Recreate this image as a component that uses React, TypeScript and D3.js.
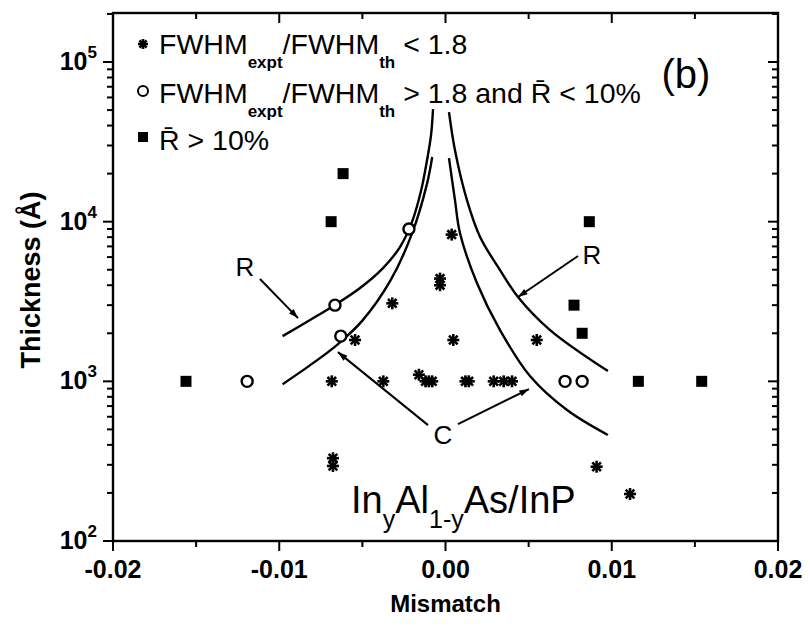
import React from "react";
import * as d3 from "d3";

// ---------- data ----------
const starsX = [0.00037, -0.00033, -0.00033, -0.0032, -0.00544, 0.00047, 0.00549, -0.00684, -0.00374, -0.0016, -0.0012, -0.001, -0.0008, 0.0012, 0.0014, 0.0029, 0.0035, 0.004, -0.00677, -0.00677, 0.00909, 0.0111];
const starsY = [8300, 4400, 4000, 3080, 1815, 1815, 1815, 1000, 1000, 1100, 1000, 1000, 1000, 1000, 1000, 1000, 1000, 1000, 330, 295, 292, 197];

const circlesX = [-0.0022, -0.00665, -0.0063, -0.01193, 0.00719, 0.00822];
const circlesY = [9000, 3000, 1920, 1000, 1000, 1000];

const squaresX = [-0.00616, -0.00688, -0.01561, 0.00865, 0.00773, 0.00822, 0.0116, 0.01541];
const squaresY = [20000, 10000, 1000, 10000, 3000, 2000, 1000, 1000];

// theory curves
const rLeftX = [-0.0098, -0.00815, -0.00665, -0.00514, -0.00376, -0.00274, -0.00202, -0.00146, -0.00111, -0.00087, -0.00075];
const rLeftY = [1920, 2420, 3008, 3840, 5120, 6930, 9930, 15780, 24320, 34860, 50700];
const cLeftX = [-0.0098, -0.0082, -0.0065, -0.005, -0.0033, -0.002, -0.0011, -0.0008];
const cLeftY = [960, 1250, 1700, 2400, 4300, 8500, 17500, 25400];
const rRightX = [0.00021, 0.00057, 0.00129, 0.00208, 0.00328, 0.00436, 0.00629, 0.00977];
const rRightY = [48500, 28000, 13650, 8020, 4980, 3375, 2094, 1159];
const cRightX = [0.00021, 0.00057, 0.00087, 0.00189, 0.00328, 0.00508, 0.00731, 0.00977];
const cRightY = [25000, 13650, 8490, 4130, 2094, 1080, 661, 461];

const xTicks = [-0.02, -0.01, 0.0, 0.01, 0.02];
const xTickLabels = ["-0.02", "-0.01", "0.00", "0.01", "0.02"];
const xMinorTicks = [-0.015, -0.005, 0.005, 0.015];
const yTicks = [100, 1000, 10000, 100000];
const yTickExp = ["2", "3", "4", "5"];

// annotations [label, x, y] and arrows [x1,y1,x2,y2]
const annLabels = ["R", "R", "C"];
const annX = [-0.01206, 0.00881, -0.00015];
const annY = [5200, 6180, 461];
const arrowFromX = [-0.01116, 0.00797, -0.00105, 0.00075];
const arrowFromY = [4375, 6100, 532, 540];
const arrowToX = [-0.00887, 0.00436, -0.00647, 0.00502];
const arrowToY = [2490, 3375, 1524, 895];

// ---------- chart ----------
const W = 810, H = 631;
const L = 113, R = 778, T = 13, B = 541;
const FONT = "'Liberation Sans', Arial, Helvetica, sans-serif";

export default function App() {
  const x = d3.scaleLinear().domain([-0.02, 0.02]).range([L, R]);
  const y = d3.scaleLog().domain([100, Math.pow(10, 5.307)]).range([B, T]);

  const line = d3
    .line<[number, number]>()
    .x((d) => x(d[0]))
    .y((d) => y(d[1]))
    .curve(d3.curveCatmullRom.alpha(0.5));

  const zip = (a: number[], b: number[]) => a.map((v, i) => [v, b[i]] as [number, number]);

  const curves = [zip(rLeftX, rLeftY), zip(cLeftX, cLeftY), zip(rRightX, rRightY), zip(cRightX, cRightY)];

  const yMinor: number[] = [];
  for (let e = 2; e <= 5; e++) {
    for (let k = 2; k <= 9; k++) {
      const v = k * Math.pow(10, e);
      if (v <= Math.pow(10, 5.307)) yMinor.push(v);
    }
  }

  const star = (cx: number, cy: number, s: number, key: any) => {
    const a = s * 0.72;
    return (
      <g key={key} stroke="#000" strokeWidth={2.6}>
        <line x1={cx} y1={cy - s} x2={cx} y2={cy + s} />
        <line x1={cx - s} y1={cy} x2={cx + s} y2={cy} />
        <line x1={cx - a} y1={cy - a} x2={cx + a} y2={cy + a} />
        <line x1={cx - a} y1={cy + a} x2={cx + a} y2={cy - a} />
      </g>
    );
  };

  return (
    <svg
      width={W}
      height={H}
      style={{ position: "absolute", left: 0, top: 0, background: "#fff" }}
      fontFamily={FONT}
    >
      <defs>
        <marker id="ah" viewBox="0 0 12 10" refX="12" refY="5" markerWidth="12" markerHeight="8" orient="auto" markerUnits="userSpaceOnUse">
          <path d="M0,1 L12,5 L0,9 Z" fill="#000" />
        </marker>
      </defs>
      <rect x={0} y={0} width={W} height={H} fill="#fff" />

      {/* frame */}
      <rect x={L} y={T} width={R - L} height={B - T} fill="none" stroke="#000" strokeWidth={2.4} />

      {/* x ticks */}
      {xTicks.map((t, i) => (
        <g key={"xt" + i}>
          <line x1={x(t)} x2={x(t)} y1={B} y2={B + 10} stroke="#000" strokeWidth={2} />
          <line x1={x(t)} x2={x(t)} y1={T} y2={T + 10} stroke="#000" strokeWidth={2} />
          <text x={x(t)} y={B + 37} textAnchor="middle" fontSize={25} fontWeight="bold">
            {xTickLabels[i]}
          </text>
        </g>
      ))}
      {xMinorTicks.map((t, i) => (
        <g key={"xm" + i}>
          <line x1={x(t)} x2={x(t)} y1={B} y2={B + 6} stroke="#000" strokeWidth={2} />
          <line x1={x(t)} x2={x(t)} y1={T} y2={T + 6} stroke="#000" strokeWidth={2} />
        </g>
      ))}

      {/* y ticks */}
      {yTicks.map((t, i) => (
        <g key={"yt" + i}>
          <line x1={L - 10} x2={L} y1={y(t)} y2={y(t)} stroke="#000" strokeWidth={2} />
          <line x1={R - 10} x2={R} y1={y(t)} y2={y(t)} stroke="#000" strokeWidth={2} />
          <text x={L - 16} y={y(t) + 8} textAnchor="end" fontSize={25} fontWeight="bold">
            10
            <tspan fontSize={17} dy={-12}>
              {yTickExp[i]}
            </tspan>
          </text>
        </g>
      ))}
      {yMinor.map((t, i) => (
        <g key={"ym" + i}>
          <line x1={L - 6} x2={L} y1={y(t)} y2={y(t)} stroke="#000" strokeWidth={2} />
          <line x1={R - 6} x2={R} y1={y(t)} y2={y(t)} stroke="#000" strokeWidth={2} />
        </g>
      ))}

      {/* axis titles */}
      <text x={(L + R) / 2} y={612} textAnchor="middle" fontSize={24} fontWeight="bold">
        Mismatch
      </text>
      <text transform={`translate(40,${(T + B) / 2 + 3}) rotate(-90)`} textAnchor="middle" fontSize={27} fontWeight="bold">
        Thickness (Å)
      </text>

      {/* curves */}
      {curves.map((c, i) => (
        <path key={"c" + i} d={line(c) || ""} fill="none" stroke="#000" strokeWidth={2.4} />
      ))}

      {/* arrows */}
      {arrowFromX.map((v, i) => (
        <line
          key={"ar" + i}
          x1={x(v)}
          y1={y(arrowFromY[i])}
          x2={x(arrowToX[i])}
          y2={y(arrowToY[i])}
          stroke="#000"
          strokeWidth={2}
          markerEnd="url(#ah)"
        />
      ))}
      {annLabels.map((s, i) => (
        <text key={"an" + i} x={x(annX[i])} y={y(annY[i]) + 9} textAnchor="middle" fontSize={26}>
          {s}
        </text>
      ))}

      {/* data */}
      {starsX.map((v, i) => star(x(v), y(starsY[i]), 6, "s" + i))}
      {circlesX.map((v, i) => (
        <circle key={"o" + i} cx={x(v)} cy={y(circlesY[i])} r={5.5} fill="#fff" stroke="#000" strokeWidth={2.4} />
      ))}
      {squaresX.map((v, i) => (
        <rect key={"q" + i} x={x(v) - 5.5} y={y(squaresY[i]) - 5.5} width={11} height={11} fill="#000" />
      ))}

      {/* legend */}
      {star(143, 44, 5, "ls")}
      <circle cx={143} cy={91} r={5} fill="#fff" stroke="#000" strokeWidth={2} />
      <rect x={138} y={132} width={10} height={10} fill="#000" />
      <text x={159} y={54} fontSize={28.5}>
        FWHM
        <tspan fontSize={17} dy={14} fontWeight="bold">expt</tspan>
        <tspan dy={-14}>/FWHM</tspan>
        <tspan fontSize={17} dy={14} fontWeight="bold">th</tspan>
        <tspan dy={-14}> {"<"} 1.8</tspan>
      </text>
      <text x={159} y={103} fontSize={28.5}>
        FWHM
        <tspan fontSize={17} dy={14} fontWeight="bold">expt</tspan>
        <tspan dy={-14}>/FWHM</tspan>
        <tspan fontSize={17} dy={14} fontWeight="bold">th</tspan>
        <tspan dy={-14}> {">"} 1.8 and R{"\u0304"} {"<"} 10%</tspan>
      </text>
      <text x={159} y={150} fontSize={28.5}>
        R{"\u0304"} {">"} 10%
      </text>

      {/* (b) */}
      <text x={686} y={88} textAnchor="middle" fontSize={40}>
        (b)
      </text>

      {/* material label */}
      <text x={351} y={513} fontSize={38}>
        In
        <tspan fontSize={25} dy={15}>y</tspan>
        <tspan dy={-15}>Al</tspan>
        <tspan fontSize={25} dy={15}>1-y</tspan>
        <tspan dy={-15}>As/InP</tspan>
      </text>
    </svg>
  );
}
